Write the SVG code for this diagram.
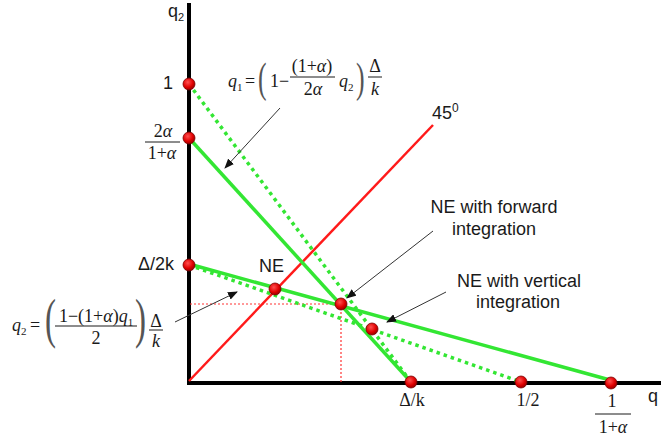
<svg xmlns="http://www.w3.org/2000/svg" width="662" height="440" viewBox="0 0 662 440">
<style>
.sans{font-family:"Liberation Sans",Arial,sans-serif;font-size:18px;fill:#1a1a1a}
.serif{font-family:"Liberation Serif","Times New Roman",serif;font-size:18px;fill:#1a1a1a}
.it{font-style:italic}
.sub{font-size:11px}
.paren{font-family:"Liberation Serif","Times New Roman",serif;fill:#555}
.axis{stroke:#000;stroke-width:4;fill:none}
.green{stroke:#33e633;stroke-width:3.5;fill:none}
.gdot{stroke:#33e633;stroke-width:3.5;fill:none;stroke-dasharray:3.5 4}
.red{stroke:#ff1a1a;stroke-width:2.5;fill:none}
.rdot{stroke:#ff3333;stroke-width:1.2;fill:none;stroke-dasharray:2 2}
.frac{stroke:#1a1a1a;stroke-width:1}
.pt{fill:url(#ball);stroke:#7a0000;stroke-width:0.8}
.ann{stroke:#333;stroke-width:1;fill:none;marker-end:url(#ah)}
</style>
<defs>
<radialGradient id="ball" cx="0.4" cy="0.35" r="0.7">
<stop offset="0" stop-color="#ff5050"/>
<stop offset="0.6" stop-color="#e00000"/>
<stop offset="1" stop-color="#8a0000"/>
</radialGradient>
<marker id="ah" markerUnits="userSpaceOnUse" markerWidth="10" markerHeight="8" refX="9" refY="4" orient="auto">
<path d="M0,0 L10,4 L0,8 Z" fill="#111"/>
</marker>
</defs>

<g id="axes">
<line class="axis" x1="189" y1="3" x2="189" y2="385"/>
<line class="axis" x1="187" y1="383" x2="661" y2="383"/>
<text class="sans" x="168" y="17">q<tspan class="sub" dy="4">2</tspan></text>
<text class="sans" x="648" y="402">q</text>
</g>

<g id="guides">
<line class="rdot" x1="190" y1="304" x2="341" y2="304"/>
<line class="rdot" x1="341" y1="304" x2="341" y2="382"/>
<line class="red" x1="189" y1="381" x2="433" y2="125"/>
<text class="sans" x="432" y="119">45<tspan font-size="12" dy="-7">0</tspan></text>
</g>

<g id="curves">
<line class="gdot" x1="189" y1="84" x2="411" y2="382"/>
<line class="gdot" x1="189" y1="265" x2="521" y2="382"/>
<line class="green" x1="189" y1="138" x2="411" y2="382"/>
<line class="green" x1="189" y1="264" x2="610" y2="380"/>
</g>

<g id="connectors">
<line class="ann" x1="280" y1="108" x2="225" y2="168"/>
<line class="ann" x1="175" y1="322" x2="237" y2="292"/>
<line class="ann" x1="433" y1="231" x2="347" y2="298"/>
<line class="ann" x1="446" y1="292" x2="387" y2="322"/>
</g>

<g id="pt-1"><circle class="pt" cx="189" cy="84" r="6"/><text class="sans" x="163" y="89">1</text></g>
<g id="pt-2a">
<circle class="pt" cx="189" cy="138" r="6"/>
<text class="serif" x="163" y="137" text-anchor="middle">2<tspan class="it">α</tspan></text>
<line class="frac" x1="145" y1="142" x2="180" y2="142"/>
<text class="serif" x="162" y="159" text-anchor="middle">1+<tspan class="it">α</tspan></text>
</g>
<g id="pt-d2k"><circle class="pt" cx="189" cy="265" r="6"/><text class="sans" x="138" y="270">Δ/2k</text></g>
<g id="pt-ne"><circle class="pt" cx="275" cy="289" r="6"/><text class="sans" x="259" y="272">NE</text></g>
<g id="pt-fwd"><circle class="pt" cx="341" cy="304" r="6"/>
<text class="sans" x="494" y="213" text-anchor="middle">NE with forward</text>
<text class="sans" x="494" y="235" text-anchor="middle">integration</text>
</g>
<g id="pt-vert"><circle class="pt" cx="372" cy="329" r="6"/>
<text class="sans" x="519" y="287" text-anchor="middle">NE with vertical</text>
<text class="sans" x="518" y="308" text-anchor="middle">integration</text>
</g>
<g id="pt-dk"><circle class="pt" cx="411" cy="382" r="6"/><text class="serif" x="412" y="406" text-anchor="middle">Δ/k</text></g>
<g id="pt-half"><circle class="pt" cx="521" cy="382" r="6"/><text class="serif" x="528" y="406" text-anchor="middle">1/2</text></g>
<g id="pt-1a"><circle class="pt" cx="611" cy="383" r="6"/>
<text class="serif" x="612" y="407" text-anchor="middle">1</text>
<line class="frac" x1="595" y1="414" x2="631" y2="414"/>
<text class="serif" x="613" y="433" text-anchor="middle">1+<tspan class="it">α</tspan></text>
</g>

<g id="eq-q1">
<text class="serif it" x="228" y="87">q<tspan class="sub" font-style="normal" dy="4">1</tspan></text>
<text class="serif" x="245" y="87">=</text>
<text class="paren" font-size="43" transform="translate(258,92) scale(0.6,1)">(</text>
<text class="serif" x="270" y="87">1−</text>
<text class="serif" x="312" y="72" text-anchor="middle">(1+<tspan class="it">α</tspan>)</text>
<line class="frac" x1="290" y1="77" x2="335" y2="77"/>
<text class="serif" x="313" y="95" text-anchor="middle">2<tspan class="it">α</tspan></text>
<text class="serif it" x="339" y="87">q<tspan class="sub" font-style="normal" dy="4">2</tspan></text>
<text class="paren" font-size="43" transform="translate(356,92) scale(0.6,1)">)</text>
<text class="serif" x="375" y="72" text-anchor="middle">Δ</text>
<line class="frac" x1="368" y1="77" x2="382" y2="77"/>
<text class="serif it" x="375" y="95" text-anchor="middle">k</text>
</g>

<g id="eq-q2">
<text class="serif it" x="12" y="331">q<tspan class="sub" font-style="normal" dy="4">2</tspan></text>
<text class="serif" x="30" y="331">=</text>
<text class="paren" font-size="55" transform="translate(45,337) scale(0.6,1)">(</text>
<text class="serif" x="96" y="322" text-anchor="middle">1−(1+<tspan class="it">α</tspan>)<tspan class="it">q</tspan><tspan class="sub" dy="4">1</tspan></text>
<line class="frac" x1="55" y1="326" x2="137" y2="326"/>
<text class="serif" x="96" y="344" text-anchor="middle">2</text>
<text class="paren" font-size="55" transform="translate(135,337) scale(0.6,1)">)</text>
<text class="serif" x="156" y="327" text-anchor="middle">Δ</text>
<line class="frac" x1="149" y1="330" x2="163" y2="330"/>
<text class="serif it" x="156" y="347" text-anchor="middle">k</text>
</g>
</svg>
